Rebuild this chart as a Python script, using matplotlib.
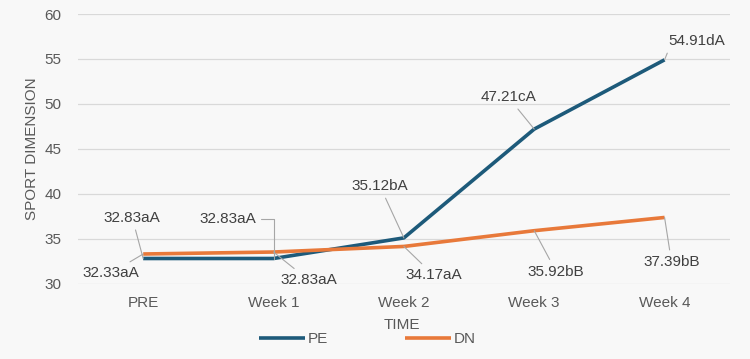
import matplotlib.pyplot as plt
import numpy as np

plt.rcParams["font.family"] = ["Liberation Sans", "DejaVu Sans"]

# data
categories = ["PRE", "Week 1", "Week 2", "Week 3", "Week 4"]
pe_values = [32.83, 32.83, 35.12, 47.21, 54.91]
dn_values = [33.33, 33.55, 34.17, 35.92, 37.39]
pe_labels = ["32.83aA", "32.83aA", "35.12bA", "47.21cA", "54.91dA"]
dn_labels = ["32.33aA", "32.83aA", "34.17aA", "35.92bB", "37.39bB"]

pe_color = "#1d5a7a"
dn_color = "#e8793a"
text_color = "#595959"

fig = plt.figure(figsize=(7.5, 3.59), dpi=100)
fig.patch.set_facecolor("#f8f8f8")
ax = fig.add_axes([0.104, 0.209, 0.869, 0.752])
ax.set_facecolor("#f8f8f8")

x = np.arange(len(categories))
ax.plot(x, pe_values, color=pe_color, lw=2.6, label="PE", zorder=3,
        solid_capstyle="butt")
ax.plot(x, dn_values, color=dn_color, lw=2.6, label="DN", zorder=3,
        solid_capstyle="butt")

ax.set_xlim(-0.5, len(categories) - 0.5)
ax.set_ylim(30, 60)
ax.set_yticks(range(30, 61, 5))
ax.set_xticks(x)
ax.set_xticklabels(categories)
ax.grid(axis="y", color="#d9d9d9", lw=0.9)
ax.set_axisbelow(True)
for s in ax.spines.values():
    s.set_visible(False)
ax.tick_params(length=0, colors=text_color, labelsize=11)
ax.tick_params(axis="x", pad=9)
ax.tick_params(axis="y", pad=12)
ax.set_ylabel("SPORT DIMENSION", color=text_color, fontsize=11, labelpad=4)

# data labels (offsets in pixels)
pe_off = [(-11, 41), (-46, 40), (-24, 52), (-26, 32), (32, 19)]
dn_off = [(-32, -19), (35, -28), (30, -29), (22, -41), (7, -45)]
pe_conn = [None, "angle,angleA=0,angleB=90,rad=0", None, None,
           "angle,angleA=0,angleB=68,rad=0"]
pe_rel = [(0.5, 0.5), (1.0, 0.5), (0.5, 0.5), (0.5, 0.5), (0.0, 0.5)]
for i in range(len(categories)):
    arrow = dict(arrowstyle="-", color="#a6a6a6", lw=0.8, shrinkA=2,
                 shrinkB=0, relpos=pe_rel[i])
    if pe_conn[i]:
        arrow["connectionstyle"] = pe_conn[i]
    ax.annotate(pe_labels[i], (x[i], pe_values[i]), xytext=pe_off[i],
                textcoords="offset pixels", ha="center", va="center",
                fontsize=11, color="#404040", arrowprops=arrow, zorder=4)
    arrow = dict(arrowstyle="-", color="#a6a6a6", lw=0.8, shrinkA=2, shrinkB=0)
    ax.annotate(dn_labels[i], (x[i], dn_values[i]), xytext=dn_off[i],
                textcoords="offset pixels", ha="center", va="center",
                fontsize=11, color="#404040", arrowprops=arrow, zorder=4)

fig.text(0.536, 0.094, "TIME", ha="center", va="center", color=text_color,
         fontsize=11)
fig.legend(loc="center", bbox_to_anchor=(0.49, 0.056), ncol=2, frameon=False,
           fontsize=11, handlelength=3.0, columnspacing=5, handletextpad=0.2,
           labelcolor=text_color)

fig.savefig("out.png", dpi=100, facecolor=fig.get_facecolor())
